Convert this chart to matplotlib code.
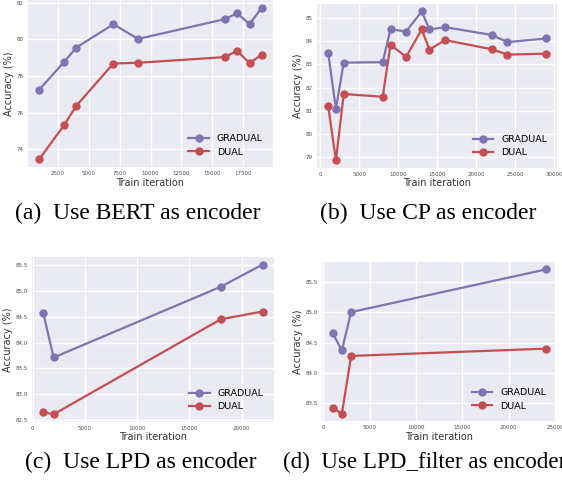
import matplotlib
matplotlib.use("Agg")
import matplotlib.pyplot as plt
from matplotlib.ticker import MultipleLocator

# ---- data ----
bert_x = [1000, 3000, 4000, 7000, 9000, 16000, 17000, 18000, 19000]
bert_gradual = [77.25, 78.75, 79.55, 80.82, 80.02, 81.10, 81.42, 80.83, 81.73]
bert_dual = [73.45, 75.30, 76.37, 78.68, 78.72, 79.03, 79.37, 78.70, 79.17]

cp_x = [1000, 2000, 3000, 8000, 9000, 11000, 13000, 14000, 16000, 22000, 24000, 29000]
cp_gradual = [83.52, 81.08, 83.08, 83.10, 84.53, 84.43, 85.30, 84.52, 84.62, 84.28, 83.97, 84.13]
cp_dual = [81.22, 78.84, 81.72, 81.60, 83.86, 83.33, 84.52, 83.65, 84.06, 83.66, 83.43, 83.47]

lpd_x = [1000, 2000, 18000, 22000]
lpd_gradual = [84.58, 83.71, 85.08, 85.51]
lpd_dual = [82.65, 82.61, 84.45, 84.60]

lpdf_x = [1000, 2000, 3000, 24000]
lpdf_gradual = [84.66, 84.37, 85.00, 85.70]
lpdf_dual = [83.43, 83.33, 84.28, 84.40]

series_names = ["GRADUAL", "DUAL"]
captions = ["(a)  Use BERT as encoder", "(b)  Use CP as encoder",
            "(c)  Use LPD as encoder", "(d)  Use LPD_filter as encoder"]

PURPLE = "#8172B2"
RED = "#C44E52"
BG = "#EAEAF2"

fig = plt.figure(figsize=(5.62, 4.86), dpi=100)

rects = [
    (0.0498, 0.6564, 0.4360, 0.3436),
    (0.5644, 0.6547, 0.4274, 0.3370),
    (0.0573, 0.1321, 0.4294, 0.3390),
    (0.5728, 0.1337, 0.4173, 0.3267),
]
panels = [
    (bert_x, bert_gradual, bert_dual, 2500, 2),
    (cp_x, cp_gradual, cp_dual, 5000, 1),
    (lpd_x, lpd_gradual, lpd_dual, 5000, 0.5),
    (lpdf_x, lpdf_gradual, lpdf_dual, 5000, 0.5),
]

for rect, (x, g, d, xstep, ystep) in zip(rects, panels):
    ax = fig.add_axes(rect)
    ax.set_facecolor(BG)
    for s in ax.spines.values():
        s.set_visible(False)
    ax.grid(True, color="white", linewidth=1.0)
    ax.set_axisbelow(True)
    ax.plot(x, g, "-o", color=PURPLE, lw=1.6, ms=5, label=series_names[0])
    ax.plot(x, d, "-o", color=RED, lw=1.6, ms=5, label=series_names[1])
    ax.xaxis.set_major_locator(MultipleLocator(xstep))
    ax.yaxis.set_major_locator(MultipleLocator(ystep))
    ax.tick_params(length=0, labelsize=4, colors="0.3", pad=3)
    ax.set_xlabel("Train iteration", fontsize=7, color="0.2", labelpad=1)
    ax.set_ylabel("Accuracy (%)", fontsize=7, color="0.2", labelpad=2)
    ax.legend(loc="lower right", frameon=False, fontsize=6.8,
              handlelength=2.2, borderaxespad=0.7, labelspacing=0.45)

cap_font = dict(family="Liberation Serif", fontsize=17, color="black")
fig.text(138 / 562, 1 - 213 / 486, captions[0], ha="center", va="center", **cap_font)
fig.text(428 / 562, 1 - 213 / 486, captions[1], ha="center", va="center", **cap_font)
fig.text(141 / 562, 1 - 462 / 486, captions[2], ha="center", va="center", **cap_font)
fig.text(283 / 562, 1 - 462 / 486, captions[3], ha="left", va="center",
         family="Liberation Serif", fontsize=16.6, color="black")

fig.savefig("out.png", dpi=100)
